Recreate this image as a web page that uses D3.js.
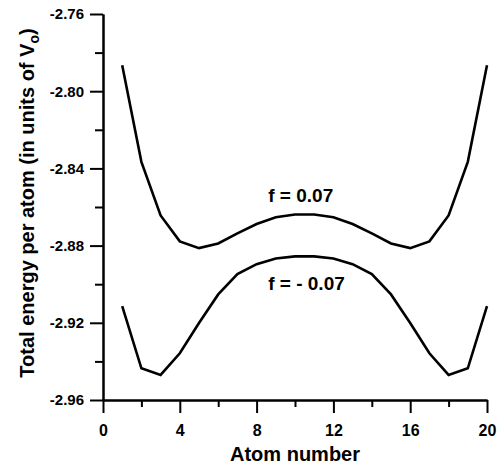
<!DOCTYPE html>
<html>
<head>
<meta charset="utf-8">
<script src="https://cdn.jsdelivr.net/npm/d3@7"></script>
<style>
  body { margin: 0; background: #fff; }
  text { font-family: "Liberation Sans", Arial, sans-serif; font-weight: bold; fill: #000; }
  .axis path, .axis line { stroke: #000; stroke-width: 2; }
</style>
</head>
<body>
<div id="chart"></div>
<script>
// values
var atoms = [1, 2, 3, 4, 5, 6, 7, 8, 9, 10, 11, 12, 13, 14, 15, 16, 17, 18, 19, 20];
var fPlus = [-2.7866, -2.8366, -2.8644, -2.8778, -2.8813, -2.8789, -2.8737, -2.8688, -2.8653, -2.8639,
             -2.8639, -2.8653, -2.8688, -2.8737, -2.8789, -2.8813, -2.8778, -2.8644, -2.8366, -2.7866];
var fMinus = [-2.9114, -2.9436, -2.9470, -2.9358, -2.9201, -2.9053, -2.8948, -2.8896, -2.8867, -2.8856,
              -2.8856, -2.8867, -2.8896, -2.8948, -2.9053, -2.9201, -2.9358, -2.9470, -2.9436, -2.9114];
var xMajor = [0, 4, 8, 12, 16, 20];
var xMinor = [2, 6, 10, 14, 18];
var yMajor = [-2.96, -2.92, -2.88, -2.84, -2.80, -2.76];
var yMinor = [-2.94, -2.90, -2.86, -2.82, -2.78];

var margin = {top: 14, right: 13, bottom: 66, left: 103},
    width = 500 - margin.left - margin.right,
    height = 466 - margin.top - margin.bottom;

var svg = d3.select("#chart")
  .append("svg")
    .attr("width", 500)
    .attr("height", 466)
  .append("g")
    .attr("transform", "translate(" + margin.left + "," + margin.top + ")");

var x = d3.scaleLinear().domain([0, 20]).range([0, width]);
var y = d3.scaleLinear().domain([-2.96, -2.76]).range([height, 0]);

// minor ticks first, no labels
svg.append("g")
    .attr("class", "axis")
    .attr("transform", "translate(0," + height + ")")
    .call(d3.axisBottom(x).tickValues(xMinor).tickSize(7).tickSizeOuter(0).tickFormat(""));
svg.append("g")
    .attr("class", "axis")
    .call(d3.axisLeft(y).tickValues(yMinor).tickSize(8).tickSizeOuter(0).tickFormat(""));

var gx = svg.append("g")
    .attr("class", "axis")
    .attr("transform", "translate(0," + height + ")")
    .call(d3.axisBottom(x).tickValues(xMajor).tickSize(13).tickSizeOuter(0).tickPadding(12).tickFormat(d3.format("d")));
gx.selectAll("text").style("font-size", "16px");

// plain hyphen as minus sign, like the original
var gy = svg.append("g")
    .attr("class", "axis")
    .call(d3.axisLeft(y).tickValues(yMajor).tickSize(13).tickSizeOuter(0).tickPadding(6)
      .tickFormat(function (d) { return d.toFixed(2); }));
gy.selectAll("text").style("font-size", "15px");

// the two curves
var line = d3.line()
    .x(function (d) { return x(d[0]); })
    .y(function (d) { return y(d[1]); });

[fPlus, fMinus].forEach(function (vals) {
  svg.append("path")
    .datum(atoms.map(function (a, i) { return [a, vals[i]]; }))
    .attr("fill", "none")
    .attr("stroke", "#000")
    .attr("stroke-width", 2.6)
    .attr("d", line);
});

// curve labels
svg.append("text")
    .attr("x", x(10.3))
    .attr("y", y(-2.8574))
    .attr("text-anchor", "middle")
    .style("font-size", "19px")
    .text("f = 0.07");
svg.append("text")
    .attr("x", x(10.6))
    .attr("y", y(-2.9032))
    .attr("text-anchor", "middle")
    .style("font-size", "19px")
    .text("f = - 0.07");

// axis titles
svg.append("text")
    .attr("x", width / 2)
    .attr("y", height + 61)
    .attr("text-anchor", "middle")
    .style("font-size", "20px")
    .text("Atom number");

var yt = svg.append("text")
    .attr("transform", "translate(" + (34 - margin.left) + "," + (203 - margin.top) + ") rotate(-90)")
    .attr("text-anchor", "middle")
    .style("font-size", "20px");
yt.append("tspan").text("Total energy per atom (in units of V");
yt.append("tspan").attr("dy", 5).style("font-size", "14px").text("o");
yt.append("tspan").attr("dy", -5).text(")");
</script>
</body>
</html>
